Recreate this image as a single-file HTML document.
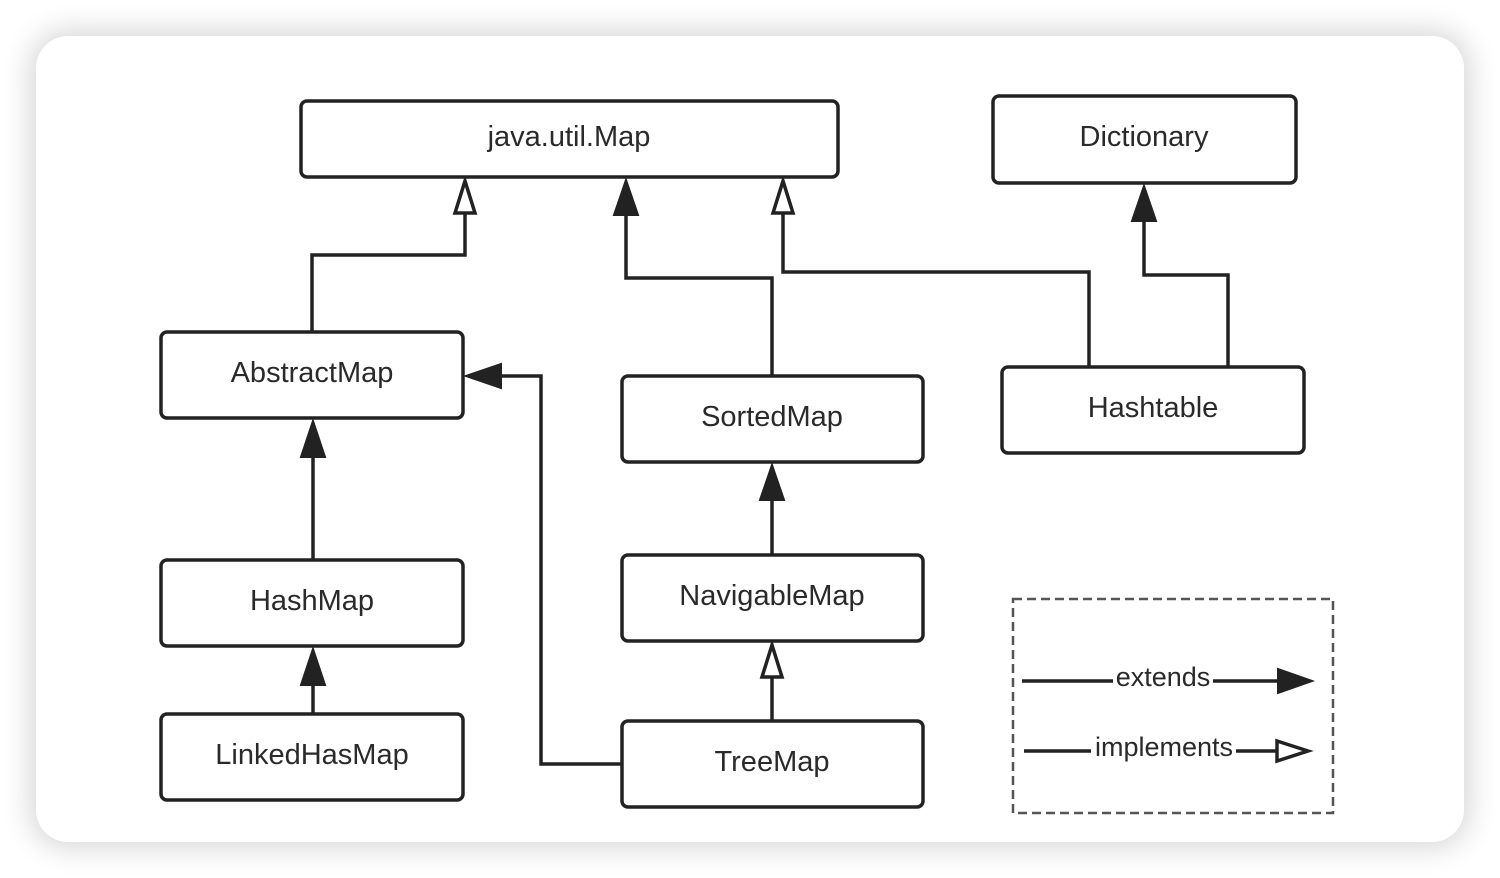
<!DOCTYPE html>
<html><head><meta charset="utf-8"><style>
html,body{margin:0;padding:0;background:#fff;}
body{width:1500px;height:878px;position:relative;overflow:hidden;}
.card{position:absolute;left:36px;top:36px;width:1428px;height:806px;background:#fff;border-radius:32px;box-shadow:0 0 28px 6px rgba(0,0,0,0.16);}
svg{position:absolute;left:0;top:0;}
text{font-family:"Liberation Sans",sans-serif;font-size:29px;fill:#2a2a2a;text-anchor:middle;}
</style></head><body>
<div class="card"></div>
<svg width="1500" height="878" viewBox="0 0 1500 878">
<g fill="none" stroke="#222" stroke-width="3.5">
<rect x="301" y="101" width="537" height="76" rx="6"/>
<rect x="993" y="96" width="303" height="87" rx="6"/>
<rect x="161" y="332" width="302" height="86" rx="6"/>
<rect x="622" y="376" width="301" height="86" rx="6"/>
<rect x="1002" y="367" width="302" height="86" rx="6"/>
<rect x="161" y="560" width="302" height="86" rx="6"/>
<rect x="622" y="555" width="301" height="86" rx="6"/>
<rect x="161" y="714" width="302" height="86" rx="6"/>
<rect x="622" y="721" width="301" height="86" rx="6"/>
<polyline points="312,332 312,255 465,255 465,214"/>
<polyline points="772,376 772,278 626,278 626,214"/>
<polyline points="1089,367 1089,272 783,272 783,214"/>
<polyline points="1228,367 1228,275 1144,275 1144,220"/>
<polyline points="313,560 313,456"/>
<polyline points="772,555 772,500"/>
<polyline points="313,714 313,684"/>
<polyline points="772,721 772,678"/>
<polyline points="622,764 541,764 541,376 500,376"/>
<line x1="1022" y1="681" x2="1113" y2="681"/>
<line x1="1213" y1="681" x2="1280" y2="681"/>
<line x1="1024" y1="751" x2="1091" y2="751"/>
<line x1="1236" y1="751" x2="1278" y2="751"/>
</g>
<g fill="#222" stroke="#222" stroke-width="2">
<polygon points="626,180 614,215 638,215"/>
<polygon points="1144,186 1132,221 1156,221"/>
<polygon points="313,421 301,457 325,457"/>
<polygon points="772,465 760,500 784,500"/>
<polygon points="313,649 301,685 325,685"/>
<polygon points="466,376 501,364 501,388"/>
<polygon points="1312,681 1278,669 1278,693"/>
</g>
<g fill="#fff" stroke="#222" stroke-width="3.5">
<polygon points="465,181 455,213 475,213"/>
<polygon points="783,181 773,213 793,213"/>
<polygon points="772,645 762,677 782,677"/>
<polygon points="1308,751 1277,741 1277,761"/>
</g>
<rect x="1013" y="599" width="320" height="214" fill="none" stroke="#555" stroke-width="2.5" stroke-dasharray="9,5"/>
<text x="569" y="146">java.util.Map</text>
<text x="1144" y="146">Dictionary</text>
<text x="312" y="382">AbstractMap</text>
<text x="772" y="426">SortedMap</text>
<text x="1153" y="417">Hashtable</text>
<text x="312" y="610">HashMap</text>
<text x="772" y="605">NavigableMap</text>
<text x="312" y="764">LinkedHasMap</text>
<text x="772" y="771">TreeMap</text>
<text x="1163" y="686" style="font-size:27px">extends</text>
<text x="1164" y="756" style="font-size:27px">implements</text>
</svg>
</body></html>
